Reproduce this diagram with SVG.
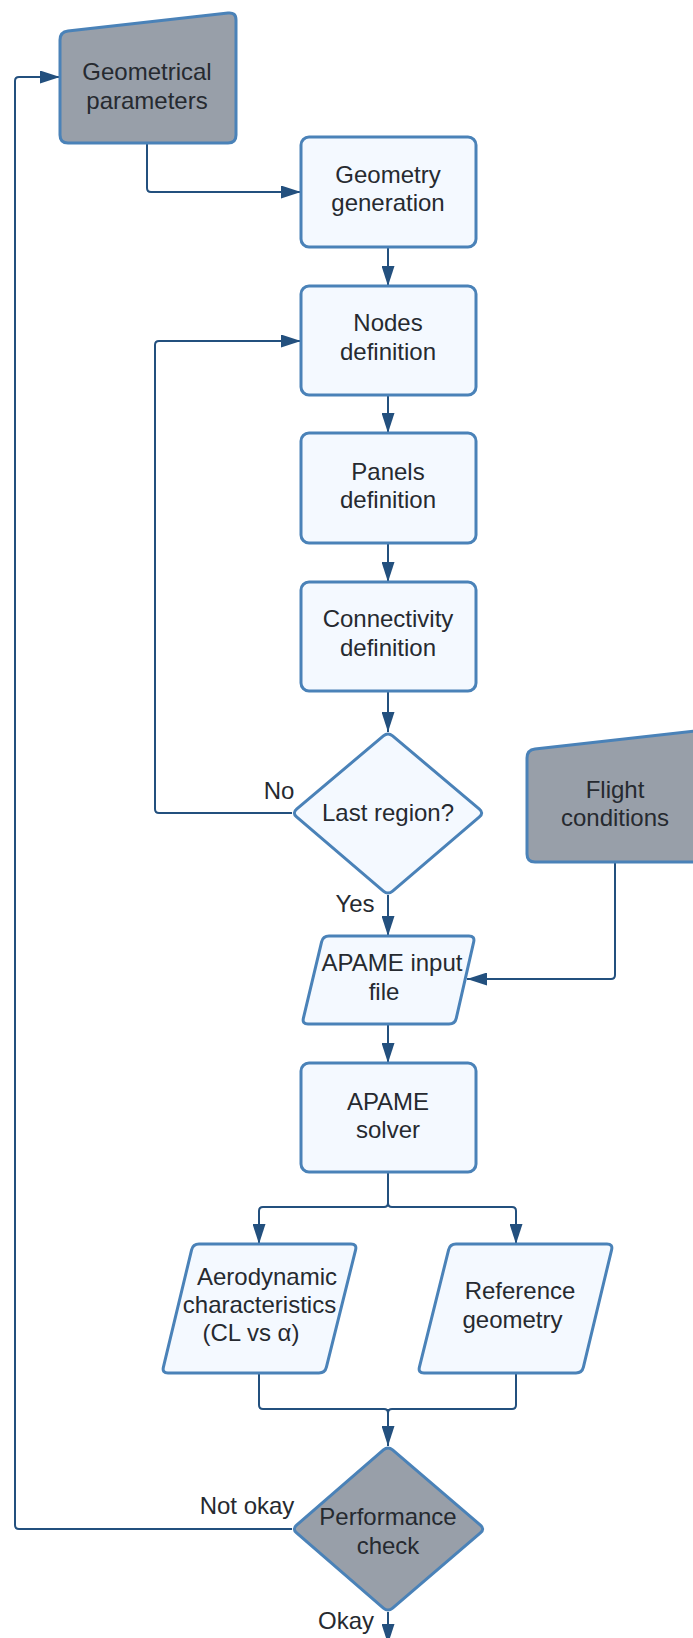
<svg xmlns="http://www.w3.org/2000/svg" width="693" height="1638" viewBox="0 0 693 1638">
<defs>
<style>
.box{fill:#f4f9ff;stroke:#4a82b8;stroke-width:3;stroke-linejoin:round}
.gray{fill:#989fa9;stroke:#4a82b8;stroke-width:3;stroke-linejoin:round}
.t{font-family:"Liberation Sans",Arial,sans-serif;font-size:24px;fill:#262a30;text-anchor:middle}
.c{fill:none;stroke:#23507e;stroke-width:2}
</style>
<marker id="ah" viewBox="0 0 20 13" refX="20" refY="6.5" markerWidth="20" markerHeight="13" markerUnits="userSpaceOnUse" orient="auto">
<path d="M0,0 L20,6.5 L0,13 Z" fill="#23507e"/>
</marker>
</defs>
<rect width="693" height="1638" fill="#ffffff"/>
<g id="connectors">
<path class="c" d="M147,143 V188 Q147,192 151,192 H301" marker-end="url(#ah)"/>
<path class="c" d="M388,247 V286" marker-end="url(#ah)"/>
<path class="c" d="M388,395 V433" marker-end="url(#ah)"/>
<path class="c" d="M388,543 V582" marker-end="url(#ah)"/>
<path class="c" d="M388,691 V732" marker-end="url(#ah)"/>
<path class="c" d="M292,813 H159 Q155,813 155,809 V345 Q155,341 159,341 H301" marker-end="url(#ah)"/>
<path class="c" d="M388,895 V936" marker-end="url(#ah)"/>
<path class="c" d="M615,862 V975 Q615,979 611,979 H467" marker-end="url(#ah)"/>
<path class="c" d="M388,1024 V1063" marker-end="url(#ah)"/>
<path class="c" d="M388,1172 V1203 Q388,1207 384,1207 H263 Q259,1207 259,1211 V1244" marker-end="url(#ah)"/>
<path class="c" d="M388,1203 Q388,1207 392,1207 H512 Q516,1207 516,1211 V1244" marker-end="url(#ah)"/>
<path class="c" d="M259,1373 V1405 Q259,1409 263,1409 H384 Q388,1409 388,1413 M516,1373 V1405 Q516,1409 512,1409 H392 Q388,1409 388,1413"/>
<path class="c" d="M388,1409 V1446" marker-end="url(#ah)"/>
<path class="c" d="M292,1529 H19 Q15,1529 15,1525 V81 Q15,77 19,77 H60" marker-end="url(#ah)"/>
<path class="c" d="M388,1612 V1644" marker-end="url(#ah)"/>
<text class="t" x="279" y="799">No</text>
<text class="t" x="355" y="912">Yes</text>
<text class="t" x="247" y="1514">Not okay</text>
<text class="t" x="346" y="1629">Okay</text>
</g>
<g id="geometrical-parameters">
<path class="gray" d="M60,40 Q60,32 68,31 L228,13 Q236,12 236,20 L236,135 Q236,143 228,143 L68,143 Q60,143 60,135 Z"/>
<text class="t" x="147" y="80">Geometrical</text>
<text class="t" x="147" y="109">parameters</text>
</g>
<g id="geometry-generation">
<rect class="box" x="301" y="137" width="175" height="110" rx="8"/>
<text class="t" x="388" y="183">Geometry</text>
<text class="t" x="388" y="211">generation</text>
</g>
<g id="nodes-definition">
<rect class="box" x="301" y="286" width="175" height="109" rx="8"/>
<text class="t" x="388" y="331">Nodes</text>
<text class="t" x="388" y="360">definition</text>
</g>
<g id="panels-definition">
<rect class="box" x="301" y="433" width="175" height="110" rx="8"/>
<text class="t" x="388" y="480">Panels</text>
<text class="t" x="388" y="508">definition</text>
</g>
<g id="connectivity-definition">
<rect class="box" x="301" y="582" width="175" height="109" rx="8"/>
<text class="t" x="388" y="627">Connectivity</text>
<text class="t" x="388" y="656">definition</text>
</g>
<g id="last-region">
<path class="box" d="M383.4,735.9 Q388,732 392.6,735.9 L479.4,809.1 Q484,813 479.4,816.9 L392.6,891.1 Q388,895 383.4,891.1 L296.6,816.9 Q292,813 296.6,809.1 Z"/>
<text class="t" x="388" y="821">Last region?</text>
</g>
<g id="flight-conditions">
<path class="gray" d="M527,758 Q527,750 535,749 L695,731 Q703,730 703,738 L703,854 Q703,862 695,862 L535,862 Q527,862 527,854 Z"/>
<text class="t" x="615" y="798">Flight</text>
<text class="t" x="615" y="826">conditions</text>
</g>
<g id="apame-input-file">
<path class="box" d="M329,936 H469 Q475,936 473.7,941.9 L456.3,1018.1 Q455,1024 449,1024 H308 Q302,1024 303.4,1018.2 L321.6,941.8 Q323,936 329,936 Z"/>
<text class="t" x="392" y="971">APAME input</text>
<text class="t" x="384" y="1000">file</text>
</g>
<g id="apame-solver">
<rect class="box" x="301" y="1063" width="175" height="109" rx="8"/>
<text class="t" x="388" y="1110">APAME</text>
<text class="t" x="388" y="1138">solver</text>
</g>
<g id="aerodynamic-characteristics">
<path class="box" d="M199,1244 H351 Q357,1244 355.6,1249.8 L326.4,1367.2 Q325,1373 319,1373 H168 Q162,1373 163.4,1367.2 L191.6,1249.8 Q193,1244 199,1244 Z"/>
<text class="t" x="267" y="1285">Aerodynamic</text>
<text class="t" x="259.5" y="1313">characteristics</text>
<text class="t" x="251" y="1341">(CL vs α)</text>
</g>
<g id="reference-geometry">
<path class="box" d="M456,1244 H607 Q613,1244 611.6,1249.8 L583.4,1367.2 Q582,1373 576,1373 H424 Q418,1373 419.4,1367.2 L448.6,1249.8 Q450,1244 456,1244 Z"/>
<text class="t" x="520" y="1299">Reference</text>
<text class="t" x="512.5" y="1328">geometry</text>
</g>
<g id="performance-check">
<path class="gray" d="M383.4,1449.9 Q388,1446 392.6,1449.9 L480.4,1525.1 Q485,1529 480.4,1532.9 L392.6,1608.1 Q388,1612 383.4,1608.1 L296.6,1532.9 Q292,1529 296.6,1525.1 Z"/>
<text class="t" x="388" y="1525">Performance</text>
<text class="t" x="388" y="1554">check</text>
</g>
</svg>
